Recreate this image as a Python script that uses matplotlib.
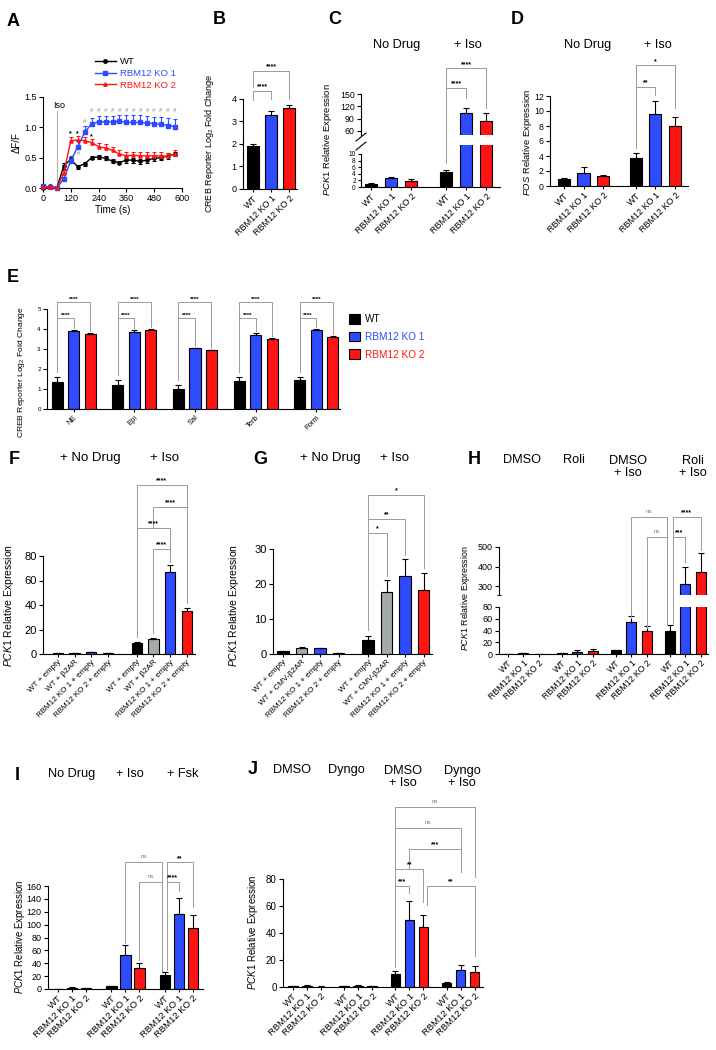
import matplotlib
matplotlib.use('Agg')
import matplotlib.pyplot as plt
import numpy as np
from matplotlib.patches import Patch
from matplotlib.lines import Line2D

plt.rcParams['font.family'] = ['Liberation Sans', 'DejaVu Sans']
plt.rcParams['mathtext.fontset'] = 'custom'
plt.rcParams['mathtext.rm'] = 'Liberation Sans'
plt.rcParams['mathtext.it'] = 'Liberation Sans:italic'
plt.rcParams['mathtext.bf'] = 'Liberation Sans:bold'

# ---------------- DATA ----------------
genotypes = ['WT', 'RBM12 KO 1', 'RBM12 KO 2']

# A: CREB reporter time course
time_s = [0, 30, 60, 90, 120, 150, 180, 210, 240, 270, 300, 330, 360, 390, 420, 450, 480, 510, 540, 570]
wt_dff = [0.00, 0.03, 0.00, 0.37, 0.47, 0.35, 0.40, 0.50, 0.51, 0.49, 0.44, 0.42, 0.46, 0.46, 0.44, 0.46, 0.49, 0.50, 0.53, 0.56]
wt_sem = [0.01, 0.02, 0.01, 0.05, 0.04, 0.03, 0.03, 0.03, 0.03, 0.03, 0.03, 0.03, 0.04, 0.04, 0.04, 0.04, 0.04, 0.04, 0.05, 0.04]
ko1_dff = [0.04, 0.01, 0.00, 0.15, 0.45, 0.68, 0.92, 1.06, 1.09, 1.09, 1.09, 1.10, 1.08, 1.08, 1.08, 1.07, 1.06, 1.05, 1.03, 1.01]
ko1_sem = [0.02, 0.01, 0.01, 0.03, 0.08, 0.10, 0.10, 0.10, 0.10, 0.10, 0.10, 0.11, 0.12, 0.12, 0.12, 0.12, 0.11, 0.12, 0.12, 0.12]
ko2_dff = [0.02, 0.02, 0.00, 0.25, 0.78, 0.79, 0.78, 0.75, 0.68, 0.66, 0.62, 0.56, 0.53, 0.54, 0.53, 0.53, 0.53, 0.53, 0.52, 0.56]
ko2_sem = [0.01, 0.01, 0.01, 0.04, 0.06, 0.07, 0.06, 0.06, 0.06, 0.06, 0.05, 0.06, 0.06, 0.06, 0.06, 0.06, 0.06, 0.06, 0.06, 0.06]

# B
b_vals = [1.90, 3.28, 3.60]
b_errs = [0.10, 0.20, 0.12]

# C
c_groups = ['No Drug', '+ Iso']
c_vals = [1.0, 2.7, 1.8, 4.6, 104.0, 85.0]
c_errs = [0.15, 0.3, 0.5, 0.6, 13.0, 19.0]

# D
d_groups = ['No Drug', '+ Iso']
d_vals = [1.0, 1.75, 1.3, 3.75, 9.6, 8.05]
d_errs = [0.05, 0.85, 0.2, 0.65, 1.7, 1.2]

# E
e_agonists = ['NE', 'Epi', 'Sal', 'Terb', 'Form']
e_wt = [1.35, 1.22, 1.00, 1.42, 1.45]
e_wt_err = [0.25, 0.22, 0.18, 0.18, 0.17]
e_ko1 = [3.92, 3.85, 3.03, 3.70, 3.95]
e_ko1_err = [0.05, 0.12, 0.04, 0.12, 0.06]
e_ko2 = [3.75, 3.95, 2.93, 3.52, 3.60]
e_ko2_err = [0.05, 0.03, 0.04, 0.04, 0.04]

# F
f_groups = ['+ No Drug', '+ Iso']
f_labels = ['WT + empty', 'WT + \u03b22AR', 'RBM12 KO 1 + empty', 'RBM12 KO 2 + empty']
f_vals = [0.8, 1.0, 1.5, 0.7, 9.2, 12.2, 67.0, 35.5]
f_errs = [0.1, 0.2, 0.3, 0.1, 0.5, 0.8, 5.5, 1.8]

# G
g_groups = ['+ No Drug', '+ Iso']
g_labels = ['WT + empty', 'WT + CMV-\u03b22AR', 'RBM12 KO 1 + empty', 'RBM12 KO 2 + empty']
g_vals = [0.8, 1.8, 1.6, 0.3, 4.0, 17.8, 22.2, 18.4]
g_errs = [0.1, 0.2, 0.15, 0.05, 1.1, 3.3, 5.0, 4.8]

# H
h_groups = ['DMSO', 'Roli', 'DMSO\n+ Iso', 'Roli\n+ Iso']
h_vals = [0.5, 1.0, 0.5, 1.0, 4.0, 5.0, 6.0, 55.0, 40.0, 40.0, 310.0, 370.0]
h_errs = [0.2, 0.5, 0.2, 0.5, 2.0, 3.0, 1.0, 10.0, 8.0, 9.0, 90.0, 100.0]

# I
i_groups = ['No Drug', '+ Iso', '+ Fsk']
i_vals = [0.5, 2.0, 1.0, 4.0, 53.0, 32.0, 21.0, 116.0, 95.0]
i_errs = [0.2, 1.0, 0.3, 1.0, 15.0, 8.0, 5.0, 26.0, 20.0]

# J
j_groups = ['DMSO', 'Dyngo', 'DMSO\n+ Iso', 'Dyngo\n+ Iso']
j_vals = [0.5, 1.0, 0.3, 0.5, 1.0, 0.5, 10.0, 50.0, 44.5, 3.0, 12.5, 11.0]
j_errs = [0.2, 0.3, 0.1, 0.2, 0.3, 0.2, 2.0, 14.0, 9.0, 1.0, 4.0, 4.5]

# ---------------- STYLE / LAYOUT ----------------
BLACK = '#000000'; BLUE = '#2e4bff'; RED = '#ff1414'; GRAY = '#a4aaaa'
BRC = '#9a9a9a'
W, H = 716, 1050
fig = plt.figure(figsize=(W / 100, H / 100), dpi=100)


def rect(x0, x1, yb, yt):
    return [x0 / W, 1 - yb / H, (x1 - x0) / W, (yb - yt) / H]


def fx(x):
    return x / W


def fy(y):
    return 1 - y / H


def positions(ngroups, nper, stride):
    return [g * stride + i for g in range(ngroups) for i in range(nper)]


def style_axes(ax, ylim, yticks, ytick_fs, bound_top=None):
    for s in ['top', 'right']:
        ax.spines[s].set_visible(False)
    for s in ['left', 'bottom']:
        ax.spines[s].set_linewidth(0.8)
    ax.set_ylim(*ylim)
    ax.set_yticks(yticks)
    ax.spines['left'].set_bounds(ylim[0], yticks[-1] if bound_top is None else bound_top)
    ax.tick_params(axis='y', labelsize=ytick_fs, length=3, width=0.8, pad=1.5)


def draw_bars(ax, xs, vals, errs, colors, width, capsize):
    ax.bar(xs, vals, width=width, color=colors, edgecolor='black', linewidth=0.8, zorder=2)
    ax.errorbar(xs, vals, yerr=[np.zeros(len(errs)), errs], fmt='none', ecolor='black',
                elinewidth=0.8, capsize=capsize, capthick=0.8, zorder=3)


def set_xlabels(ax, xs, labels, fs):
    ax.set_xticks(xs)
    ax.set_xticklabels(labels, rotation=45, ha='right', rotation_mode='anchor', fontsize=fs)
    ax.tick_params(axis='x', length=2, width=0.8, pad=1.5)


def bracket(ax, xs, a, b, y, la, lb, label, dxa=0.0, dxb=0.0, fs=5.0):
    xa = xs[a] + dxa
    xb = xs[b] + dxb
    ax.plot([xa, xa, xb, xb], [la, y, y, lb], color=BRC, lw=0.7, clip_on=False, zorder=1)
    if label == 'ns':
        ax.annotate(label, ((xa + xb) / 2, y), xytext=(0, 2.0), textcoords='offset points',
                    ha='center', va='bottom', fontsize=4.5, color='#808080', annotation_clip=False)
    else:
        ax.annotate(label, ((xa + xb) / 2, y), xytext=(0, 0.3), textcoords='offset points',
                    ha='center', va='bottom', fontsize=fs, fontweight='bold', color='black',
                    annotation_clip=False)


def letter(x, y, s):
    fig.text(fx(x), fy(y), s, fontsize=13, fontweight='bold', ha='center', va='center')


def title(x, y, s, fs=9.2):
    fig.text(fx(x), fy(y), s, fontsize=fs, ha='center', va='center', linespacing=1.05)


def ylab(x, y, s, fs):
    fig.text(fx(x), fy(y), s, fontsize=fs, rotation=90, ha='center', va='center')


col3 = [BLACK, BLUE, RED]
pck1 = r'$\mathit{PCK1}$ Relative Expression'

# ---------------- A ----------------
axA = fig.add_axes(rect(43, 182, 188, 97))
for m, e, c, mk in [(wt_dff, wt_sem, BLACK, 'o'), (ko1_dff, ko1_sem, BLUE, 's'), (ko2_dff, ko2_sem, RED, '^')]:
    lower = np.zeros(len(e)) if c != BLACK else e
    axA.errorbar(time_s, m, yerr=[lower, e], color=c, marker=mk, markersize=2.3, lw=1.0,
                 elinewidth=0.8, capsize=1.6, capthick=0.8, clip_on=False, zorder=3)
axA.set_xlim(0, 600)
axA.set_xticks([0, 120, 240, 360, 480, 600])
style_axes(axA, (0, 1.5), [0.0, 0.5, 1.0, 1.5], 6.5)
axA.set_yticklabels(['0.0', '0.5', '1.0', '1.5'])
axA.tick_params(axis='x', labelsize=6.5, length=3, width=0.8, pad=1.5)
axA.set_xlabel('Time (s)', fontsize=7, labelpad=1)
axA.set_ylabel('\u0394F/F', fontsize=7, labelpad=2)
axA.plot([60, 60], [0, 1.27], color='#b0b0b0', lw=0.8, zorder=1)
axA.text(45, 1.36, 'Iso', fontsize=6.5, ha='left', va='center')
for t, yv in [(120, 0.90), (150, 0.90), (180, 0.90), (210, 0.84)]:
    axA.text(t, yv, '*', fontsize=5, ha='center', va='center', fontweight='bold')
for t, yv in [(155, 0.57), (180, 1.09)] + [(t, 1.27) for t in range(210, 571, 30)]:
    axA.text(t, yv, '#', fontsize=4.5, ha='center', va='center', color='#8a8a8a')
hA = [Line2D([], [], color=c, marker=mk, markersize=2.5, lw=1.0) for c, mk in [(BLACK, 'o'), (BLUE, 's'), (RED, '^')]]
axA.legend(hA, genotypes, loc='upper left', bbox_to_anchor=(fx(95), fy(57)), bbox_transform=fig.transFigure,
           frameon=False, fontsize=6.8, handlelength=2.2, labelspacing=0.3, handletextpad=0.4,
           borderaxespad=0, borderpad=0, labelcolor=col3)
letter(13, 21, 'A')

# ---------------- B ----------------
xsB = positions(1, 3, 1)
axB = fig.add_axes(rect(243, 297, 189, 99))
draw_bars(axB, xsB, b_vals, b_errs, col3, 0.66, 2.4)
axB.set_xlim(-0.56, 2.44)
style_axes(axB, (0, 4), [0, 1, 2, 3, 4], 6.5)
set_xlabels(axB, xsB, genotypes, 6.5)
bracket(axB, xsB, 0, 1, 4.36, 3.96, 4.0, '****')
bracket(axB, xsB, 0, 2, 5.24, 4.53, 4.0, '****')
ylab(210, 143, 'CREB Reporter Log$_2$ Fold Change', 6.5)
letter(219, 20, 'B')

# ---------------- C (broken axis) ----------------
xsC = positions(2, 3, 3.75)
axCl = fig.add_axes(rect(361, 500, 187, 145))
axCu = fig.add_axes(rect(361, 500, 135, 94))
for ax in (axCl, axCu):
    draw_bars(ax, xsC, c_vals, c_errs, col3 * 2, 0.64, 2.4)
    ax.set_xlim(-0.5, 6.45)
style_axes(axCl, (0, 12.7), [0, 2, 4, 6, 8, 10], 4.8)
axCl.tick_params(axis='y', length=2.5, pad=1.2)
style_axes(axCu, (50, 150), [60, 90, 120, 150], 6.3)
axCu.spines['left'].set_bounds(50, 150)
axCu.spines['bottom'].set_visible(False)
axCu.set_xticks([])
set_xlabels(axCl, xsC, genotypes * 2, 6.5)
for (x0, y0, x1, y1) in [(356, 141, 366, 133), (356, 150, 366, 142)]:
    fig.add_artist(Line2D([fx(x0), fx(x1)], [fy(y0), fy(y1)], color='black', lw=0.8))
bracket(axCu, xsC, 3, 4, 164.6, -17.8, 140, '****')
bracket(axCu, xsC, 3, 5, 213, 164.6, 116, '****')
ylab(327, 140, pck1, 6.8)
title(397, 45, c_groups[0])
title(468, 45, c_groups[1])
letter(335, 20, 'C')

# ---------------- D ----------------
xsD = positions(2, 3, 3.69)
axD = fig.add_axes(rect(550, 688, 186, 96))
draw_bars(axD, xsD, d_vals, d_errs, col3 * 2, 0.62, 2.4)
axD.set_xlim(-0.72, 6.36)
style_axes(axD, (0, 12), [0, 2, 4, 6, 8, 10, 12], 6.3)
set_xlabels(axD, xsD, genotypes * 2, 6.5)
bracket(axD, xsD, 3, 4, 13.2, 5.07, 12.1, '**')
bracket(axD, xsD, 3, 5, 16.1, 13.2, 10.4, '*')
ylab(527, 142, r'$\mathit{FOS}$ Relative Expression', 6.8)
title(588, 45, d_groups[0])
title(658, 45, d_groups[1])
letter(517, 20, 'D')

# ---------------- E ----------------
xsE = positions(5, 3, 3.68)
e_vals = [v for trip in zip(e_wt, e_ko1, e_ko2) for v in trip]
e_errs = [v for trip in zip(e_wt_err, e_ko1_err, e_ko2_err) for v in trip]
axE = fig.add_axes(rect(47, 340, 409, 309))
draw_bars(axE, xsE, e_vals, e_errs, col3 * 5, 0.67, 1.9)
axE.set_xlim(-0.61, 17.15)
style_axes(axE, (0, 5), [0, 1, 2, 3, 4, 5], 4.5)
set_xlabels(axE, [xsE[3 * g + 1] for g in range(5)], e_agonists, 5.5)
for g in range(5):
    k = 3 * g
    top_wt = e_vals[k] + e_errs[k]
    top1 = e_vals[k + 1] + e_errs[k + 1]
    top2 = e_vals[k + 2] + e_errs[k + 2]
    bracket(axE, xsE, k, k + 1, 4.55, top_wt + 0.25, top1 + 0.1, '****', fs=4.5)
    bracket(axE, xsE, k, k + 2, 5.35, 4.55, top2 + 0.1, '****', fs=4.5)
hE = [Patch(facecolor=c, edgecolor='black', linewidth=0.8) for c in col3]
axE.legend(hE, genotypes, loc='upper left', bbox_to_anchor=(fx(349), fy(314)), bbox_transform=fig.transFigure,
           frameon=False, fontsize=7.2, handlelength=1.1, handleheight=1.1, labelspacing=0.75,
           handletextpad=0.5, borderaxespad=0, borderpad=0, labelcolor=col3)
ylab(22, 372, 'CREB Reporter Log$_2$ Fold Change', 6.1)
letter(13, 277, 'E')

# ---------------- F ----------------
col4 = [BLACK, GRAY, BLUE, RED]
xsF = positions(2, 4, 4.75)
axF = fig.add_axes(rect(43, 195, 654, 556))
draw_bars(axF, xsF, f_vals, f_errs, col4 * 2, 0.62, 2.2)
axF.set_xlim(-0.9, 8.25)
style_axes(axF, (0, 80), [0, 20, 40, 60, 80], 8)
set_xlabels(axF, xsF, f_labels * 2, 5.8)
bracket(axF, xsF, 4, 7, 138, 103, 120, '****')
bracket(axF, xsF, 5, 7, 120, 103, 41.6, '****')
bracket(axF, xsF, 4, 6, 103, 14, 85.7, '****')
bracket(axF, xsF, 5, 6, 85.7, 17, 75, '****')
ylab(9, 605, pck1, 7.5)
title(90, 458, f_groups[0], 9.5)
title(165, 458, f_groups[1], 9.5)
letter(14, 459, 'F')

# ---------------- G ----------------
xsG = positions(2, 4, 4.6)
axG = fig.add_axes(rect(273, 432, 654, 549))
draw_bars(axG, xsG, g_vals, g_errs, col4 * 2, 0.62, 2.4)
axG.set_xlim(-0.54, 8.05)
style_axes(axG, (0, 30), [0, 10, 20, 30], 8)
set_xlabels(axG, xsG, g_labels * 2, 5.8)
bracket(axG, xsG, 4, 5, 34.6, 7.0, 22.2, '*')
bracket(axG, xsG, 4, 6, 38.6, 34.6, 28.4, '**')
bracket(axG, xsG, 4, 7, 45.4, 38.6, 24.5, '*')
ylab(234, 605, pck1, 7.5)
title(330, 458, g_groups[0], 9.5)
title(395, 458, g_groups[1], 9.5)
letter(260, 459, 'G')

# ---------------- H (broken axis) ----------------
xsH = positions(4, 3, 3.53)
axHl = fig.add_axes(rect(499, 708, 654, 607))
axHu = fig.add_axes(rect(499, 708, 595, 547))
for ax in (axHl, axHu):
    draw_bars(ax, xsH, h_vals, h_errs, col3 * 4, 0.66, 2.0)
    ax.set_xlim(-0.59, 13.07)
style_axes(axHl, (0, 80), [0, 20, 40, 60, 80], 6.5)
style_axes(axHu, (254, 500), [300, 400, 500], 6.5)
axHu.spines['left'].set_bounds(254, 500)
axHu.spines['bottom'].set_visible(False)
axHu.set_xticks([])
axHu.set_yticks([254], minor=True)
axHu.tick_params(axis='y', which='minor', length=3, width=0.8, direction='inout')
set_xlabels(axHl, xsH, genotypes * 4, 6.3)
bracket(axHu, xsH, 7, 9, 654, 136, 100, 'ns', dxb=-0.2)
bracket(axHu, xsH, 8, 9, 551, 84, 100, 'ns', dxb=-0.2)
bracket(axHu, xsH, 9, 11, 654, 551, 485, '****', dxa=0.2)
bracket(axHu, xsH, 9, 10, 551, 100, 425, '***', dxa=0.2)
ylab(465, 598, pck1, 6.4)
for x, s in zip([522, 574, 628, 693], h_groups):
    title(x, 460 if '\n' not in s else 467, s)
letter(474, 460, 'H')

# ---------------- I ----------------
xsI = positions(3, 3, 3.82)
axI = fig.add_axes(rect(48, 203, 989, 886))
draw_bars(axI, xsI, i_vals, i_errs, col3 * 3, 0.75, 2.2)
axI.set_xlim(-0.71, 10.36)
style_axes(axI, (0, 160), list(range(0, 161, 20)), 6.5)
set_xlabels(axI, xsI, genotypes * 3, 6.8)
bracket(axI, xsI, 4, 6, 197, 71, 27, 'ns', dxb=-0.2)
bracket(axI, xsI, 5, 6, 166, 45, 27, 'ns', dxb=-0.2)
bracket(axI, xsI, 6, 8, 197, 166, 127, '**', dxa=0.15)
bracket(axI, xsI, 6, 7, 166, 30, 153, '****', dxa=0.15)
ylab(20, 937, pck1, 6.9)
for x, s in zip([72, 130, 183], i_groups):
    title(x, 774, s)
letter(17, 775, 'I')

# ---------------- J ----------------
xsJ = positions(4, 3, 3.66)
axJ = fig.add_axes(rect(283, 483, 987, 879))
draw_bars(axJ, xsJ, j_vals, j_errs, col3 * 4, 0.68, 2.2)
axJ.set_xlim(-0.71, 13.57)
style_axes(axJ, (0, 80), [0, 20, 40, 60, 80], 7)
set_xlabels(axJ, xsJ, genotypes * 4, 6.8)
bracket(axJ, xsJ, 6, 11, 133.3, 117.8, 81.5, 'ns')
bracket(axJ, xsJ, 6, 10, 117.8, 87.4, 85, 'ns')
bracket(axJ, xsJ, 7, 10, 102.2, 87.4, 85, '***')
bracket(axJ, xsJ, 6, 8, 87.4, 74.8, 63, '**')
bracket(axJ, xsJ, 6, 7, 74.8, 14.8, 70, '***')
bracket(axJ, xsJ, 8, 11, 74.8, 60.7, 23, '**', dxa=0.25)
ylab(253, 932, pck1, 7)
for x, s in zip([292, 346, 403, 462], j_groups):
    title(x, 770 if '\n' not in s else 777, s)
letter(253, 770, 'J')

fig.savefig('out.png', dpi=100)
